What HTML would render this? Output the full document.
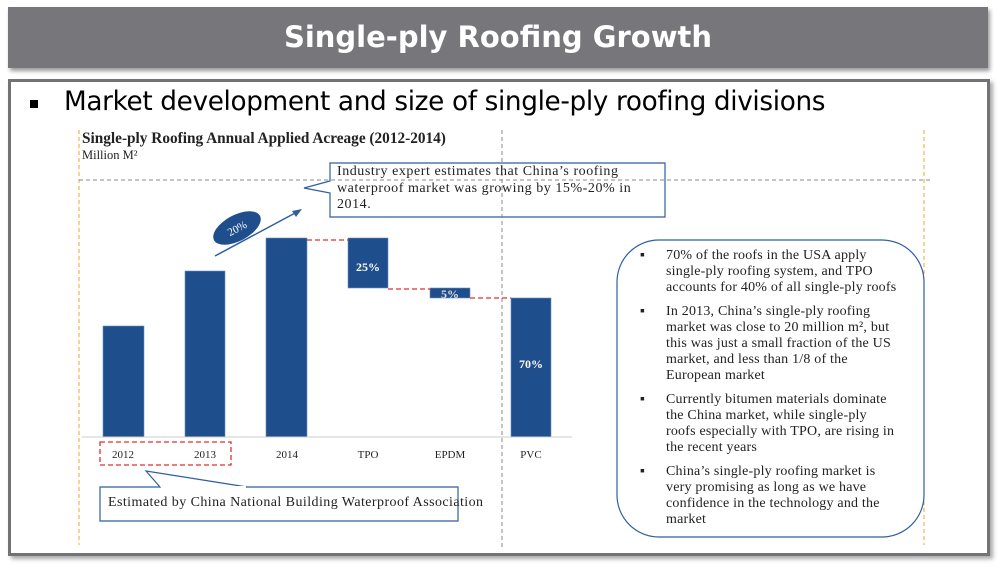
<!DOCTYPE html>
<html><head><meta charset="utf-8"><style>
body{margin:0;width:1004px;height:570px;background:#fff;position:relative;overflow:hidden;font-family:"Liberation Serif",serif}
.tb{position:absolute;left:8px;top:7px;width:980px;height:61px;background:#77777b;box-shadow:2px 3px 4px #999;color:#fff;font:bold 29px "DejaVu Sans","Liberation Sans",sans-serif;text-align:center;line-height:60px}
.fr{position:absolute;left:8px;top:79px;width:976px;height:471px;border:3px solid #737375;box-shadow:3px 3px 4px #aaa}
.sub{position:absolute;left:64px;top:87px;font:26.3px "DejaVu Sans","Liberation Sans",sans-serif;color:#000;letter-spacing:-0.35px}
.t{position:absolute;white-space:nowrap;color:#222}
</style></head><body>
<div class="tb">Single-ply Roofing Growth</div>
<div class="fr"></div>
<div style="position:absolute;left:30px;top:100px;width:8px;height:8px;background:#000"></div>
<div class="sub">Market development and size of single-ply roofing divisions</div>
<div class="t" style="left:82px;top:130px;font-weight:bold;font-size:15.3px">Single-ply Roofing Annual Applied Acreage (2012-2014)</div>
<div class="t" style="left:82px;top:148px;font-size:12.5px">Million M²</div>
<svg width="1004" height="570" style="position:absolute;left:0;top:0">
<g fill="#1f4e8c" stroke="#6d8fc0" stroke-width="0.6">
<rect x="103" y="326" width="41" height="111"/>
<rect x="185" y="271" width="40" height="166"/>
<rect x="266" y="238" width="41" height="199"/>
<rect x="348" y="238" width="40" height="50"/>
<rect x="430" y="288" width="40" height="10"/>
<rect x="511" y="298" width="40" height="139"/>
</g>
<path d="M330,163 H665 V217 H330 V193 L304,188 L330,181 Z" fill="#fff" stroke="#2f5fa0" stroke-width="1.2"/>
<path d="M100,487 H458 V521 H100 Z" fill="#fff" stroke="#2f5fa0" stroke-width="1.2"/>
<path d="M160,487 L146,471 L247,487" fill="#fff" stroke="#2f5fa0" stroke-width="1.2"/>
<line x1="161" y1="487" x2="246" y2="487" stroke="#fff" stroke-width="2"/>
<line x1="79" y1="130" x2="79" y2="545" stroke="#f4a52c" stroke-dasharray="4,3"/>
<line x1="924" y1="130" x2="924" y2="545" stroke="#f4a52c" stroke-dasharray="4,3"/>
<line x1="502" y1="130" x2="502" y2="550" stroke="#888" stroke-dasharray="4,3"/>
<line x1="79" y1="180" x2="932" y2="180" stroke="#888" stroke-dasharray="4,3"/>
<line x1="82" y1="437" x2="572" y2="437" stroke="#ccc"/>
<g stroke="#e52e2e" stroke-dasharray="5,3" stroke-width="1.3" fill="none">
<line x1="307" y1="240" x2="348" y2="240"/>
<line x1="388" y1="289" x2="430" y2="289"/>
<line x1="470" y1="298" x2="511" y2="298"/>
<rect x="100" y="442" width="131" height="23"/>
</g>
<g font-family="Liberation Serif,serif" font-weight="bold" fill="#fff" text-anchor="middle" font-size="12">
<text x="368" y="271">25%</text><text x="450" y="298" fill="#ddd">5%</text><text x="531" y="368">70%</text>
</g>
<g font-family="Liberation Serif,serif" fill="#222" text-anchor="middle" font-size="11">
<text x="123" y="458">2012</text><text x="205" y="458">2013</text><text x="287" y="458">2014</text><text x="368" y="458">TPO</text><text x="450" y="458">EPDM</text><text x="531" y="458">PVC</text>
</g>
<line x1="215" y1="256" x2="297" y2="212" stroke="#2f5fa0" stroke-width="1.5"/>
<polygon points="302,209 292,211 296,217" fill="#2f5fa0"/>
<ellipse cx="237" cy="228" rx="26" ry="13" fill="#1f4e8c" transform="rotate(-28 237 228)"/>
<text x="237" y="232" fill="#fff" font-size="11" text-anchor="middle" transform="rotate(-28 237 228)" font-family="Liberation Serif,serif">20%</text>
<rect x="617" y="240" width="307" height="297" rx="42" fill="none" stroke="#2f5fa0" stroke-width="1.2"/>
</svg>
<div class="t" style="left:337px;top:164px;font-size:14px;letter-spacing:0.55px;line-height:16.5px">Industry expert estimates that China’s roofing<br>waterproof market was growing by 15%-20% in<br>2014.</div>
<div class="t" style="left:108px;top:495px;font-size:14px;letter-spacing:0.43px">Estimated by China National Building Waterproof Association</div>
<div class="t" style="left:640px;top:248px;font-size:14px;letter-spacing:0.2px;line-height:16px">
<div style="position:relative;padding-left:26px;margin-bottom:8px"><span style="position:absolute;left:0">▪</span>70% of the roofs in the USA apply<br>single-ply roofing system, and TPO<br>accounts for 40% of all single-ply roofs</div>
<div style="position:relative;padding-left:26px;margin-bottom:8px"><span style="position:absolute;left:0">▪</span>In 2013, China’s single-ply roofing<br>market was close to 20 million m², but<br>this was just a small fraction of the US<br>market, and less than 1/8 of the<br>European market</div>
<div style="position:relative;padding-left:26px;margin-bottom:8px"><span style="position:absolute;left:0">▪</span>Currently bitumen materials dominate<br>the China market, while single-ply<br>roofs especially with TPO, are rising in<br>the recent years</div>
<div style="position:relative;padding-left:26px"><span style="position:absolute;left:0">▪</span>China’s single-ply roofing market is<br>very promising as long as we have<br>confidence in the technology and the<br>market</div>
</div>
</body></html>
